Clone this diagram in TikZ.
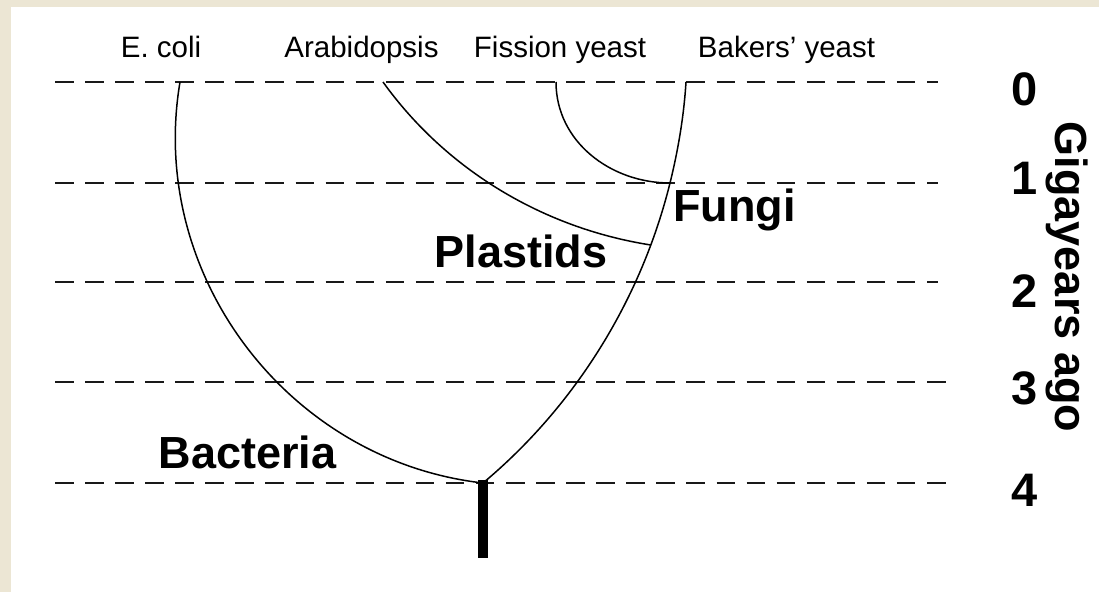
\documentclass[tikz,border=0pt]{standalone}
\usepackage{fontspec}
\setmainfont{Liberation Sans}
\definecolor{beige}{RGB}{236,230,212}
\begin{document}
\begin{tikzpicture}[x=1pt,y=1pt,
  gridline/.style={line width=2.7pt, color=black!90, dash pattern=on 18.5pt off 11.57pt},
  branch/.style={line width=1.5pt, black},
  stembar/.style={line width=10pt, black},
  species/.style={font=\fontsize{29.5}{34}\selectfont, anchor=base, inner sep=0pt},
  clade/.style={font=\bfseries\fontsize{45}{52}\selectfont, anchor=base, inner sep=0pt},
  tick/.style={font=\bfseries\fontsize{47}{54}\selectfont, anchor=base, inner sep=0pt},
]
\useasboundingbox (0,0) rectangle (1099,592);
\fill[beige] (0,0) rectangle (1099,592);
\fill[white] (11,0) rectangle (1099,585);

% time lines
\draw[gridline] (55,510) -- (938,510);
\draw[gridline] (55,409) -- (938,409);
\draw[gridline] (55,310) -- (938,310);
\draw[gridline] (55,210) -- (946,210);
\draw[gridline] (55,109) -- (946,109);

% tree points
\coordinate (ecoli) at (180,510);
\coordinate (arab) at (383,510);
\coordinate (fission) at (556,510);
\coordinate (bakers) at (686,510);
\coordinate (fj) at (670,409);
\coordinate (pj) at (650.8,347);
\coordinate (root) at (483,109);
\coordinate (base) at (483,34);

% branches
\draw[branch] (ecoli) to[out=260.4, in=173.5, looseness=1] (root);
\draw[branch] (root) to[out=39.9, in=249.55, looseness=0.866] (pj)
                     to[out=69.55, in=256.09, looseness=0.852] (fj)
                     to[out=76.09, in=266.4, looseness=0.852] (bakers);
\draw[branch] (arab) to[out=-54.3, in=171.1, looseness=0.886] (pj);
\draw[branch] (fission) to[out=-90, in=180, looseness=1] (fj);
\draw[stembar, shorten <=-3pt] (root) -- (base);

% species labels
\node[species] (lecoli) at (161,534) {E. coli};
\node[species] (larab) at (361.5,534) {Arabidopsis};
\node[species] (lfission) at (560,534) {Fission yeast};
\node[species] (lbakers) at (786.5,534) {Bakers' yeast};

% clade labels
\node[clade] (lfungi) at (734.5,370) {Fungi};
\node[clade] (lplastids) at (521,324) {Plastids};
\node[clade] (lbacteria) at (247.5,124) {Bacteria};

% time axis
\node[tick] (t0) at (1025,486) {0};
\node[tick] (t1) at (1025,397) {1};
\node[tick] (t2) at (1025,284) {2};
\node[tick] (t3) at (1025,188) {3};
\node[tick] (t4) at (1025,86) {4};
\node[clade, rotate=-90] (axis) at (1055,315) {Gigayears ago};
\end{tikzpicture}
\end{document}
